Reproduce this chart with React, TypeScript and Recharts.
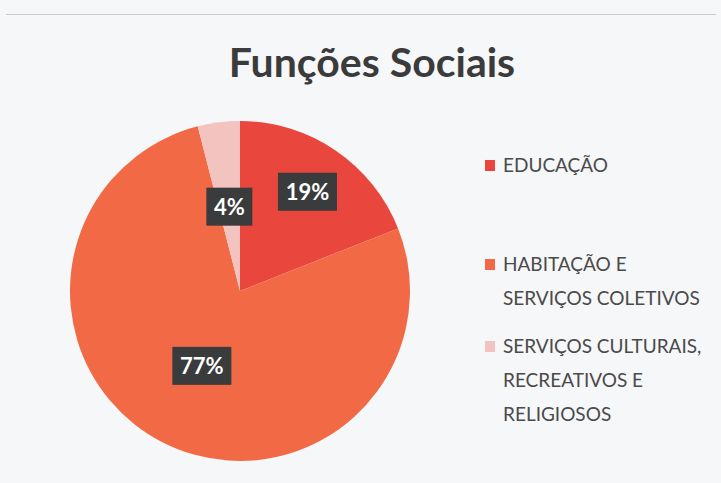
import React from 'react';
import { PieChart, Pie, Cell, Legend } from 'recharts';

const categories = ['EDUCAÇÃO', 'HABITAÇÃO E SERVIÇOS COLETIVOS', 'SERVIÇOS CULTURAIS, RECREATIVOS E RELIGIOSOS'];
const shares = [19, 77, 4];
const legendLines = [
  ['EDUCAÇÃO'],
  ['HABITAÇÃO E', 'SERVIÇOS COLETIVOS'],
  ['SERVIÇOS CULTURAIS,', 'RECREATIVOS E', 'RELIGIOSOS'],
];
const colors = ['#E9473D', '#F26A45', '#F3C3BF'];

const data = categories.map((name, i) => ({ name, value: shares[i] }));

// label distance from centre, per slice
const labelRadius = [120, 84, 85];
// legend rows, top of each block
const legendTops = [148, 247, 329];

const RAD = Math.PI / 180;

const renderLabel = (props: any) => {
  const { cx, cy, midAngle, index, value } = props;
  const r = labelRadius[index];
  const x = cx + r * Math.cos(-midAngle * RAD);
  const y = cy + r * Math.sin(-midAngle * RAD);
  const text = `${value}%`;
  const w = text.length === 2 ? 46 : 59;
  return (
    <g>
      <rect x={x - w / 2} y={y - 19} width={w} height={38} fill="#3a3b3c" />
      <text x={x} y={y + 8} textAnchor="middle" fill="#ffffff" fontFamily="Lato" fontWeight="bold" fontSize={22}>
        {text}
      </text>
    </g>
  );
};

const renderLegend = () => (
  <div style={{ position: 'relative', width: 230, height: 300 }}>
    {legendLines.map((lines, i) => (
      <div key={i} style={{ position: 'absolute', left: 0, top: legendTops[i] - 148 }}>
        <div style={{ position: 'absolute', left: 0, top: 12, width: 10, height: 11, background: colors[i] }} />
        <div style={{ marginLeft: 18, fontFamily: 'Lato', fontSize: 19, lineHeight: '34px', color: '#4a4a4a', whiteSpace: 'nowrap' }}>
          {lines.map((l, j) => (
            <div key={j}>{l}</div>
          ))}
        </div>
      </div>
    ))}
  </div>
);

export default function App() {
  return (
    <div style={{ position: 'absolute', left: 0, top: 0, width: 721, height: 483, background: '#f6f7f9', overflow: 'hidden' }}>
      <div style={{ position: 'absolute', left: 6, top: 14, width: 710, height: 1, background: '#c9cbd0' }} />
      <PieChart width={721} height={483} margin={{ top: 0, right: 0, bottom: 0, left: 0 }}>
        <text x={372} y={77} textAnchor="middle" fill="#3b3b3b" fontFamily="Lato" fontWeight="bold" fontSize={41}>
          Funções Sociais
        </text>
        <Pie
          data={data}
          dataKey="value"
          nameKey="name"
          cx={240}
          cy={291}
          outerRadius={170}
          startAngle={90}
          endAngle={-270}
          stroke="none"
          label={renderLabel}
          labelLine={false}
          isAnimationActive={false}
        >
          {data.map((d, i) => (
            <Cell key={d.name} fill={colors[i]} />
          ))}
        </Pie>
        <Legend
          content={renderLegend}
          layout="vertical"
          wrapperStyle={{ position: 'absolute', left: 485, top: 148, width: 230 }}
        />
      </PieChart>
    </div>
  );
}
